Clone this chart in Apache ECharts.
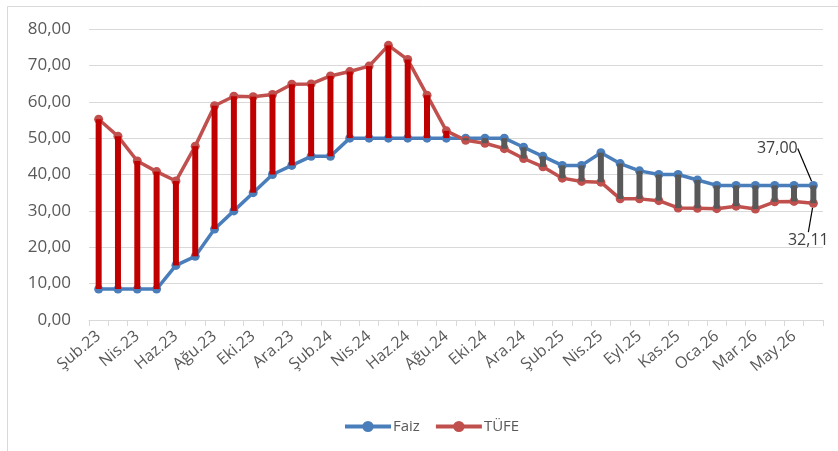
<!DOCTYPE html>
<html>
<head>
<meta charset="utf-8">
<script src="https://cdn.jsdelivr.net/npm/echarts@6/dist/echarts.min.js"></script>
<style>
html,body{margin:0;padding:0;background:#fff;}
#c{width:838px;height:451px;}
</style>
</head>
<body>
<div id="c"></div>
<script>
var categories = ['Şub.23','Mar.23','Nis.23','May.23','Haz.23','Tem.23','Ağu.23','Eyl.23','Eki.23','Kas.23',
  'Ara.23','Oca.24','Şub.24','Mar.24','Nis.24','May.24','Haz.24','Tem.24','Ağu.24','Eyl.24',
  'Eki.24','Kas.24','Ara.24','Oca.25','Şub.25','Mar.25','Nis.25','Ağu.25','Eyl.25','Eki.25',
  'Kas.25','Ara.25','Oca.26','Şub.26','Mar.26','Nis.26','May.26','Haz.26'];
var faiz = [8.5,8.5,8.5,8.5,15,17.5,25,30,35,40,
  42.5,45,45,50,50,50,50,50,50,50,
  50,50,47.5,45,42.5,42.5,46,43,41,40,
  40,38.5,37,37,37,37,37,37];
var tufe = [55.2,50.5,43.7,40.8,38.2,47.8,58.9,61.5,61.4,62.0,
  64.8,64.9,67.1,68.3,69.8,75.5,71.6,61.8,52.0,49.4,
  48.6,47.1,44.4,42.1,39.0,38.1,37.9,33.3,33.3,32.8,
  30.8,30.7,30.6,31.3,30.5,32.5,32.6,32.11];
var yTicks = [0,10,20,30,40,50,60,70,80];

var last = categories.length - 1;
var fmt = function(v){ return v.toFixed(2).replace('.', ','); };

var baseVals = faiz.map(function(f,i){ return Math.min(f, tufe[i]); });
var gapVals = faiz.map(function(f,i){
  return { value: Math.abs(tufe[i]-f), itemStyle: { color: tufe[i] >= f ? '#C00000' : '#595959' } };
});
var faizData = faiz.map(function(v,i){
  return i === last ? { value: v, label: { show: true, formatter: fmt(v) } } : v;
});
var tufeData = tufe.map(function(v,i){
  return i === last ? { value: v, label: { show: true, formatter: fmt(v) } } : v;
});

var chart = echarts.init(document.getElementById('c'));
chart.setOption({
  animation: false,
  backgroundColor: '#ffffff',
  graphic: [{
    type: 'rect', shape: { x: 7.5, y: 6.5, width: 900, height: 500 },
    style: { fill: 'none', stroke: '#D9D9D9', lineWidth: 1 }, z: -10
  }],
  grid: { left: 89, right: 15, top: 29, bottom: 131, containLabel: false },
  legend: {
    data: ['Faiz', 'TÜFE'],
    bottom: 12, left: 338,
    itemWidth: 46, itemHeight: 14, itemGap: 14,
    lineStyle: { width: 4 },
    textStyle: { color: '#595959', fontSize: 15, fontFamily: 'Open Sans', padding: [0,0,0,-3] }
  },
  xAxis: {
    type: 'category', data: categories, boundaryGap: true,
    axisLine: { lineStyle: { color: '#D9D9D9', width: 1 } },
    axisTick: { show: true, interval: 0, length: 6, lineStyle: { color: '#D9D9D9' } },
    axisLabel: { interval: 1, rotate: 40, margin: 14, color: '#595959', fontSize: 16, fontFamily: 'Open Sans' }
  },
  yAxis: {
    type: 'value', min: yTicks[0], max: yTicks[yTicks.length-1], interval: 10,
    axisLine: { show: false }, axisTick: { show: false },
    axisLabel: { color: '#595959', fontSize: 17, fontFamily: 'Open Sans', margin: 18, formatter: fmt },
    splitLine: { lineStyle: { color: '#D9D9D9', width: 1 } }
  },
  series: [
    { name: 'base', type: 'bar', stack: 'hl', data: baseVals, barWidth: 6,
      itemStyle: { color: 'transparent' }, silent: true, z: 3 },
    { name: 'gap', type: 'bar', stack: 'hl', data: gapVals, barWidth: 6, silent: true, z: 3 },
    { name: 'Faiz', type: 'line', data: faizData, symbol: 'circle', symbolSize: 9,
      lineStyle: { color: '#4A7EBB', width: 3.5 }, itemStyle: { color: '#4A7EBB' }, z: 2,
      label: { show: false, position: 'inside', color: '#404040', fontSize: 16, fontFamily: 'Open Sans' },
      labelLayout: { dx: -36, dy: -37 },
      labelLine: { show: true, lineStyle: { color: '#000', width: 1.2 } } },
    { name: 'TÜFE', type: 'line', data: tufeData, symbol: 'circle', symbolSize: 9,
      lineStyle: { color: '#C0504D', width: 3.5 }, itemStyle: { color: '#C0504D' }, z: 2,
      label: { show: false, position: 'inside', color: '#404040', fontSize: 16, fontFamily: 'Open Sans' },
      labelLayout: { dx: -5, dy: 37 },
      labelLine: { show: true, lineStyle: { color: '#000', width: 1.2 } } }
  ]
});
</script>
</body>
</html>
